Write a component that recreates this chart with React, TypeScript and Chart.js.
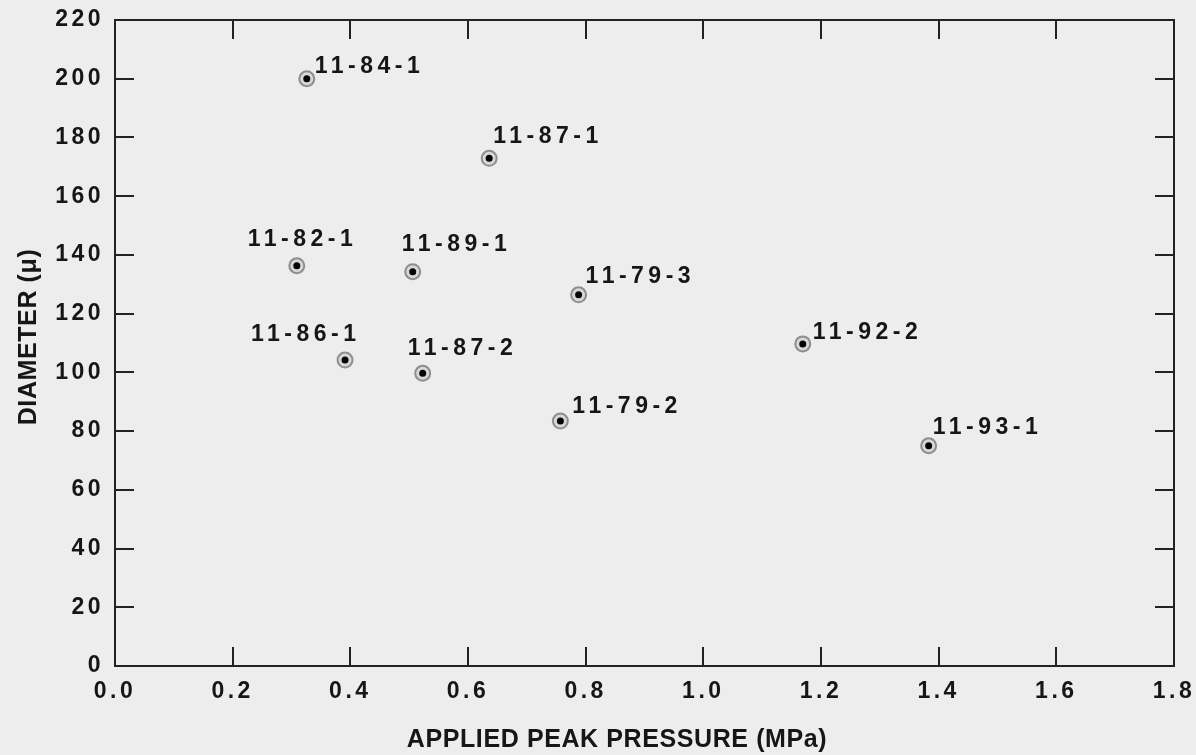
import React, { useEffect, useRef } from "react";
import { Chart, registerables } from "chart.js";

Chart.register(...registerables);

// ---- data ----
const specimenLabels = [
  "11-84-1",
  "11-82-1",
  "11-87-1",
  "11-89-1",
  "11-79-3",
  "11-86-1",
  "11-87-2",
  "11-79-2",
  "11-92-2",
  "11-93-1",
];
const pressureMPa = [0.326, 0.309, 0.636, 0.506, 0.788, 0.391, 0.523, 0.757, 1.169, 1.383];
const diameterMicrons = [200, 136.3, 172.9, 134.3, 126.4, 104.2, 99.7, 83.4, 109.7, 75.0];

const xTickValues = [0, 0.2, 0.4, 0.6, 0.8, 1.0, 1.2, 1.4, 1.6, 1.8];
const yTickValues = [0, 20, 40, 60, 80, 100, 120, 140, 160, 180, 200, 220];

const xTitle = "APPLIED PEAK PRESSURE (MPa)";
const yTitle = "DIAMETER (\u03bc)";

// label placement (offset of text left edge / vertical centre from the marker, px)
const labelDx = [8, -49, 4, -11, 7, -94, -15, 12, 10, 4];
const labelDy = [-14, -28, -23, -29, -20, -27, -26, -16, -13, -20];

const FONT = "'Liberation Sans', Arial, Helvetica, sans-serif";
const INK = "#161616";
const BG = "#ededed";

const points = pressureMPa.map((x, i) => ({ x, y: diameterMicrons[i] }));

const framePlugin = {
  id: "frameTicks",
  beforeDraw(chart: any) {
    const ctx = chart.ctx;
    ctx.save();
    ctx.fillStyle = BG;
    ctx.fillRect(0, 0, chart.width, chart.height);
    ctx.restore();
    (ctx as any).letterSpacing = "3.5px";
  },
  beforeDatasetsDraw(chart: any) {
    const ctx = chart.ctx;
    const { left, right, top, bottom } = chart.chartArea;
    const xs = chart.scales.x;
    const ys = chart.scales.y;
    const TL = 19;
    ctx.save();
    ctx.strokeStyle = "#222222";
    ctx.lineWidth = 2;
    ctx.lineCap = "butt";
    ctx.strokeRect(left, top, right - left, bottom - top);
    ctx.beginPath();
    xTickValues.slice(1, -1).forEach((v) => {
      const px = Math.round(xs.getPixelForValue(v));
      ctx.moveTo(px, bottom);
      ctx.lineTo(px, bottom - TL);
      ctx.moveTo(px, top);
      ctx.lineTo(px, top + TL);
    });
    yTickValues.slice(1, -1).forEach((v) => {
      const py = Math.round(ys.getPixelForValue(v));
      ctx.moveTo(left, py);
      ctx.lineTo(left + TL, py);
      ctx.moveTo(right, py);
      ctx.lineTo(right - TL, py);
    });
    ctx.stroke();
    ctx.restore();
  },
  afterDraw(chart: any) {
    const ctx = chart.ctx;
    const xs = chart.scales.x;
    const ys = chart.scales.y;
    ctx.save();
    // point labels
    ctx.fillStyle = INK;
    ctx.font = `bold 23px ${FONT}`;
    (ctx as any).letterSpacing = "4.5px";
    ctx.textAlign = "left";
    ctx.textBaseline = "alphabetic";
    specimenLabels.forEach((lab, i) => {
      const px = xs.getPixelForValue(pressureMPa[i]);
      const py = ys.getPixelForValue(diameterMicrons[i]);
      ctx.fillText(lab, px + labelDx[i], py + labelDy[i] + 8);
    });
    // axis titles
    (ctx as any).letterSpacing = "0.6px";
    ctx.font = `bold 25px ${FONT}`;
    ctx.textAlign = "center";
    ctx.fillText(xTitle, 617, 738 + 9);
    ctx.translate(27, 337);
    ctx.rotate(-Math.PI / 2);
    ctx.fillText(yTitle, 0, 9);
    ctx.restore();
  },
};

export default function App() {
  const ref = useRef<HTMLCanvasElement>(null);

  useEffect(() => {
    document.body.style.margin = "0";
    document.body.style.background = BG;
    const canvas = ref.current!;
    const tickFont = { family: FONT, size: 23, weight: "bold" as const };
    const chart = new Chart(canvas, {
      type: "scatter",
      data: {
        datasets: [
          {
            // black centre dot (drawn on top)
            data: points,
            pointRadius: 3.5,
            pointHoverRadius: 3.5,
            pointBorderWidth: 0,
            pointBackgroundColor: "#050505",
            showLine: false,
          },
          {
            // grey ring around each point
            data: points,
            pointRadius: 7.5,
            pointHoverRadius: 7.5,
            pointBorderWidth: 2,
            pointBorderColor: "rgba(120,120,120,0.8)",
            pointBackgroundColor: "rgba(205,205,205,0.7)",
            showLine: false,
          },
        ],
      },
      options: {
        responsive: false,
        animation: false,
        events: [],
        layout: { padding: { top: 20, right: 22, left: 0, bottom: 0 } },
        plugins: {
          legend: { display: false },
          tooltip: { enabled: false },
        },
        scales: {
          x: {
            type: "linear",
            min: 0,
            max: 1.8,
            grid: { display: false },
            border: { display: false },
            afterBuildTicks: (s: any) => {
              s.ticks = xTickValues.map((v) => ({ value: v }));
            },
            afterFit: (s: any) => {
              s.height = 89;
            },
            ticks: {
              color: INK,
              font: tickFont,
              padding: 4,
              maxRotation: 0,
              autoSkip: false,
              callback: (v: any) => Number(v).toFixed(1),
            },
          },
          y: {
            type: "linear",
            min: 0,
            max: 220,
            grid: { display: false },
            border: { display: false },
            afterBuildTicks: (s: any) => {
              s.ticks = yTickValues.map((v) => ({ value: v }));
            },
            afterFit: (s: any) => {
              s.width = 115;
            },
            ticks: {
              color: INK,
              font: tickFont,
              padding: 3,
              autoSkip: false,
              callback: (v: any) => String(v),
            },
          },
        },
      },
      plugins: [framePlugin],
    });
    return () => chart.destroy();
  }, []);

  return (
    <div style={{ width: 1196, height: 755, background: BG }}>
      <canvas ref={ref} width={1196} height={755} style={{ display: "block", width: 1196, height: 755 }} />
    </div>
  );
}
